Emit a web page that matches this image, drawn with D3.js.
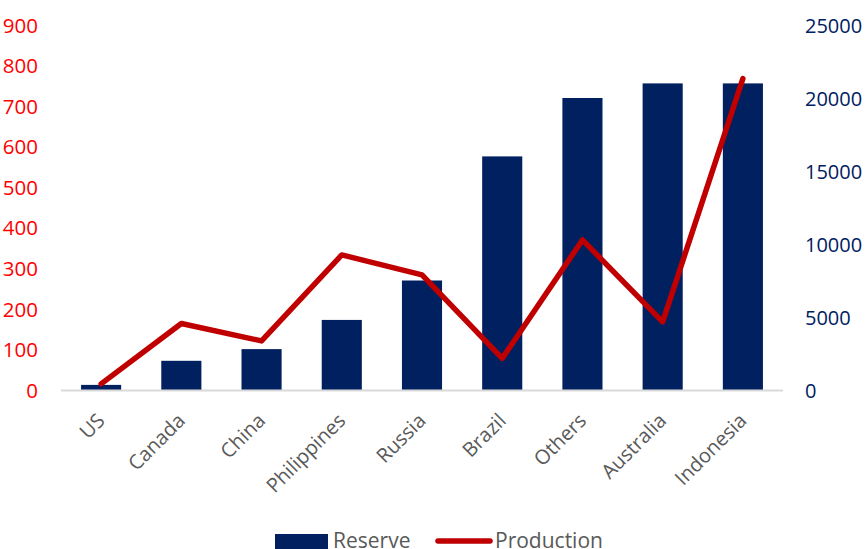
<!DOCTYPE html>
<html>
<head>
<meta charset="utf-8">
<script src="https://cdn.jsdelivr.net/npm/d3@7/dist/d3.min.js"></script>
<style>
  html, body { margin: 0; padding: 0; background: #fff; }
  svg { display: block; }
  text { font-family: "Open Sans", "Noto Sans", sans-serif; }
</style>
</head>
<body>
<svg id="chart" width="867" height="549"></svg>
<script>
// Nickel reserves (right axis) and production (left axis) by country
const categories = ["US", "Canada", "China", "Philippines", "Russia", "Brazil", "Others", "Australia", "Indonesia"];
const reserve = [350, 2000, 2800, 4800, 7500, 16000, 20000, 21000, 21000];
const production = [15, 164, 121, 333, 284, 78, 370, 168, 768];
const leftTicks = [0, 100, 200, 300, 400, 500, 600, 700, 800, 900];
const rightTicks = [0, 5000, 10000, 15000, 20000, 25000];

const svg = d3.select("#chart");
const plot = { left: 61, right: 783, top: 25, bottom: 390 };

const x = d3.scaleBand().domain(categories).range([plot.left, plot.right]).paddingInner(0.5).paddingOuter(0.25);
const yLeft = d3.scaleLinear().domain([0, 900]).range([plot.bottom, plot.top]);
const yRight = d3.scaleLinear().domain([0, 25000]).range([plot.bottom, plot.top]);

// Bars: reserves
svg.append("g").selectAll("rect").data(categories).join("rect")
  .attr("x", d => x(d))
  .attr("width", x.bandwidth())
  .attr("y", (d, i) => yRight(reserve[i]))
  .attr("height", (d, i) => plot.bottom - yRight(reserve[i]))
  .attr("fill", "#002060");

// Category baseline
svg.append("line")
  .attr("x1", plot.left).attr("x2", plot.right)
  .attr("y1", plot.bottom + 0.5).attr("y2", plot.bottom + 0.5)
  .attr("stroke", "#d9d9d9").attr("stroke-width", 2);

// Line: production
const line = d3.line()
  .x((d, i) => x(categories[i]) + x.bandwidth() / 2)
  .y(d => yLeft(d));
svg.append("path").datum(production)
  .attr("d", line)
  .attr("fill", "none")
  .attr("stroke", "#C00000")
  .attr("stroke-width", 5.5)
  .attr("stroke-linecap", "round")
  .attr("stroke-linejoin", "round");

// Left axis
const gl = svg.append("g").attr("transform", `translate(${plot.left - 23},0)`)
  .call(d3.axisLeft(yLeft).tickValues(leftTicks).tickSize(0).tickPadding(0).tickFormat(d3.format("d")));
gl.select(".domain").remove();
gl.selectAll("text").attr("fill", "#FF0000").style("font-size", "20.5px").attr("dy", "0.35em");

// Right axis
const gr = svg.append("g").attr("transform", `translate(${plot.right + 22},0)`)
  .call(d3.axisRight(yRight).tickValues(rightTicks).tickSize(0).tickPadding(0).tickFormat(d3.format("d")));
gr.select(".domain").remove();
gr.selectAll("text").attr("fill", "#002060").style("font-size", "20px").attr("dy", "0.35em");

// Category labels, rotated
const gx = svg.append("g").attr("transform", `translate(0,${plot.bottom})`)
  .call(d3.axisBottom(x).tickSize(0).tickPadding(0));
gx.select(".domain").remove();
gx.selectAll("text")
  .attr("fill", "#595959")
  .style("font-size", "20px")
  .attr("text-anchor", "end")
  .attr("dy", null)
  .attr("transform", "translate(5,32) rotate(-45)");

// Legend
const lg = svg.append("g");
lg.append("rect").attr("x", 275).attr("y", 534).attr("width", 53).attr("height", 16).attr("fill", "#002060");
lg.append("text").attr("x", 333).attr("y", 548).attr("fill", "#595959").style("font-size", "21px").text("Reserve");
lg.append("line").attr("x1", 438).attr("x2", 490).attr("y1", 541).attr("y2", 541)
  .attr("stroke", "#C00000").attr("stroke-width", 5.5).attr("stroke-linecap", "round");
lg.append("text").attr("x", 495).attr("y", 548).attr("fill", "#595959").style("font-size", "21px").text("Production");
</script>
</body>
</html>
